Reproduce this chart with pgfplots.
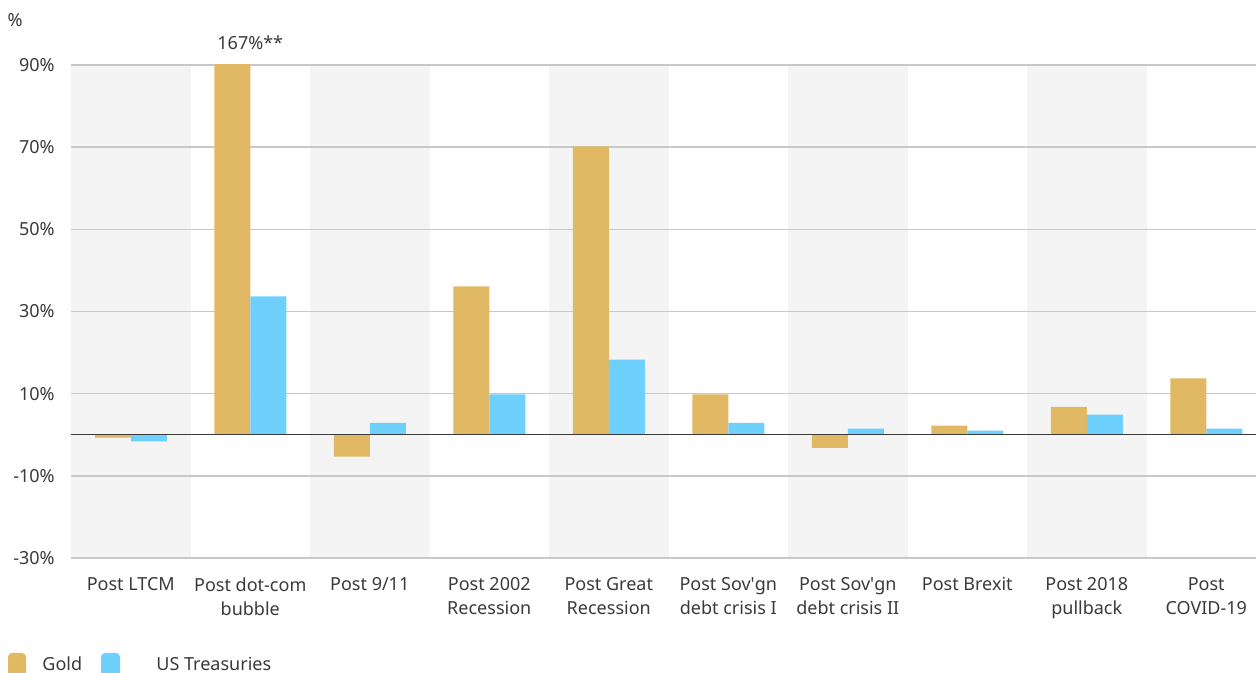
\documentclass[border=0pt]{standalone}
\usepackage{fontspec}
\setmainfont{Noto Sans}
\usepackage{pgfplots}
\pgfplotsset{compat=1.18}

\definecolor{gold}{HTML}{E1B964}
\definecolor{ust}{HTML}{6DD0FD}
\definecolor{band}{HTML}{F4F4F4}
\definecolor{gridc}{HTML}{C8C8C8}
\definecolor{txt}{HTML}{3A3A3A}

\begin{document}
\begin{tikzpicture}
\fontsize{9}{12}\selectfont
\begin{axis}[
    set layers,
    clip mode=individual,
    at={(35.5pt,57.5pt)}, anchor=south west,
    scale only axis,
    width=597.5pt, height=246.5pt,
    xmin=-0.5, xmax=9.5,
    ymin=-30, ymax=90,
    axis line style={draw=none},
    major tick length=0pt,
    xtick={0,...,9},
    xticklabels={Post LTCM, Post dot-com\\bubble, Post 9/11, Post 2002\\Recession,
        Post Great\\Recession, Post Sov\textquotesingle gn\\debt crisis I,
        Post Sov\textquotesingle gn\\debt crisis II, Post Brexit,
        Post 2018\\pullback, Post\\COVID-19},
    xticklabel style={align=center, anchor=north, inner sep=0pt, yshift=-9.5pt,
        font=\fontsize{9}{12}\selectfont, text=txt},
    ytick={-30,-10,10,30,50,70,90},
    yticklabels={-30\%,-10\%,10\%,30\%,50\%,70\%,90\%},
    yticklabel style={anchor=east, inner sep=0pt, xshift=-8pt,
        font=\fontsize{9}{12}\selectfont, text=txt},
    ymajorgrids,
    grid style={gridc, line width=0.8pt},
    bands/.style={fill=band, draw=none, forget plot, on layer=axis background},
]
% shaded category bands
\addplot[bands] coordinates {(-0.5,-30) (0.5,-30) (0.5,90) (-0.5,90)} -- cycle;
\addplot[bands] coordinates {(1.5,-30) (2.5,-30) (2.5,90) (1.5,90)} -- cycle;
\addplot[bands] coordinates {(3.5,-30) (4.5,-30) (4.5,90) (3.5,90)} -- cycle;
\addplot[bands] coordinates {(5.5,-30) (6.5,-30) (6.5,90) (5.5,90)} -- cycle;
\addplot[bands] coordinates {(7.5,-30) (8.5,-30) (8.5,90) (7.5,90)} -- cycle;

% Gold
\addplot[ybar, bar width=18pt, bar shift=-9pt, fill=gold, draw=none] coordinates {
    (0,-0.7) (1,167) (2,-5.3) (3,36.1) (4,70.2)
    (5,9.8) (6,-3.2) (7,2.2) (8,6.8) (9,13.7)
};
% US Treasuries
\addplot[ybar, bar width=18pt, bar shift=9pt, fill=ust, draw=none] coordinates {
    (0,-1.6) (1,33.7) (2,2.9) (3,9.8) (4,18.3)
    (5,2.9) (6,1.5) (7,1.0) (8,4.9) (9,1.5)
};

\draw[txt, line width=0.75pt] (axis cs:-0.5,0) -- (axis cs:9.5,0);
\node[text=txt, yshift=11pt] at (axis cs:1,90) {167\%**};
\end{axis}

\node[text=txt] at (7.5pt,326.5pt) {\%};

% legend
\fill[gold, rounded corners=2pt] (4pt,-3pt) rectangle (13pt,10pt);
\node[text=txt, anchor=west, inner sep=0pt] at (21pt,4.5pt) {Gold};
\fill[ust, rounded corners=2pt] (50.5pt,-3pt) rectangle (60pt,10pt);
\node[text=txt, anchor=west, inner sep=0pt] at (78pt,4.5pt) {US Treasuries};

\pgfresetboundingbox
\path[use as bounding box] (0,0) rectangle (628pt,336.5pt);
\end{tikzpicture}
\end{document}
